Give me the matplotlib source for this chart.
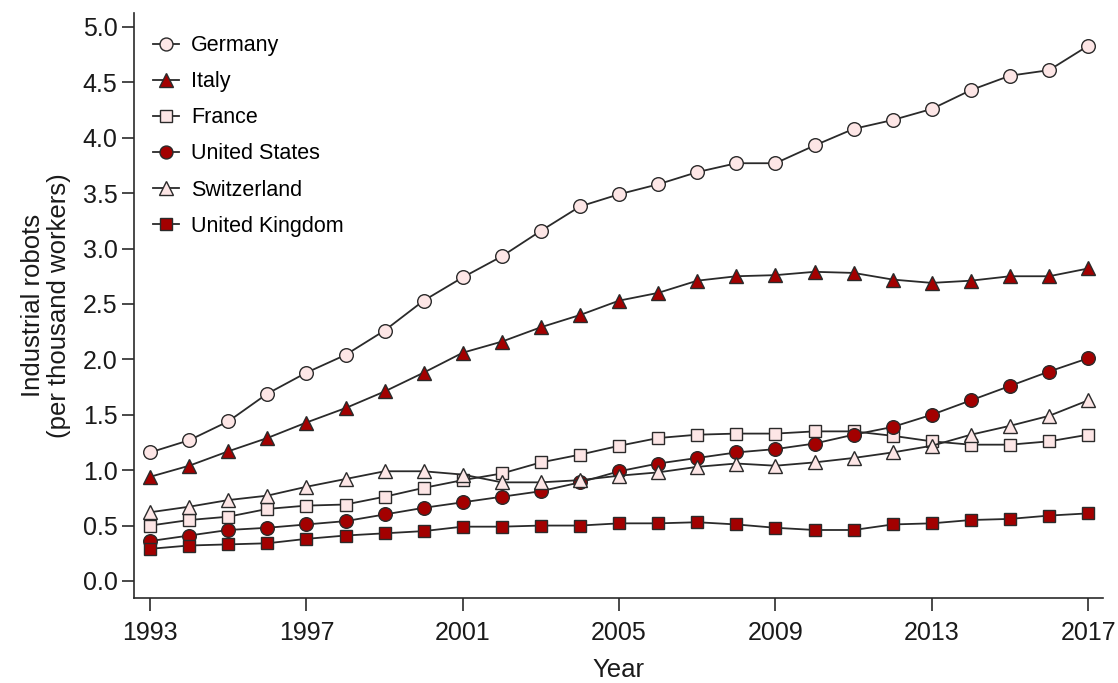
import matplotlib
matplotlib.use('Agg')
import matplotlib.pyplot as plt

years = list(range(1993, 2018))

germany = [1.16, 1.27, 1.44, 1.69, 1.88, 2.04, 2.26, 2.53, 2.74, 2.93, 3.16, 3.38, 3.49,
           3.58, 3.69, 3.77, 3.77, 3.93, 4.08, 4.16, 4.26, 4.43, 4.56, 4.61, 4.83]
italy = [0.94, 1.04, 1.17, 1.29, 1.43, 1.56, 1.71, 1.88, 2.06, 2.16, 2.29, 2.40, 2.53,
         2.60, 2.71, 2.75, 2.76, 2.79, 2.78, 2.72, 2.69, 2.71, 2.75, 2.75, 2.82]
france = [0.50, 0.55, 0.58, 0.65, 0.68, 0.69, 0.76, 0.84, 0.91, 0.97, 1.07, 1.14, 1.22,
          1.29, 1.32, 1.33, 1.33, 1.35, 1.35, 1.31, 1.26, 1.23, 1.23, 1.26, 1.32]
united_states = [0.36, 0.41, 0.46, 0.48, 0.51, 0.54, 0.60, 0.66, 0.71, 0.76, 0.81, 0.89, 0.99,
                 1.06, 1.11, 1.16, 1.19, 1.24, 1.32, 1.39, 1.50, 1.63, 1.76, 1.89, 2.01]
switzerland = [0.62, 0.67, 0.73, 0.77, 0.85, 0.92, 0.99, 0.99, 0.96, 0.89, 0.89, 0.91, 0.95,
               0.98, 1.03, 1.06, 1.04, 1.07, 1.11, 1.16, 1.22, 1.32, 1.40, 1.49, 1.63]
united_kingdom = [0.29, 0.32, 0.33, 0.34, 0.38, 0.41, 0.43, 0.45, 0.49, 0.49, 0.50, 0.50, 0.52,
                  0.52, 0.53, 0.51, 0.48, 0.46, 0.46, 0.51, 0.52, 0.55, 0.56, 0.59, 0.61]

x_ticks = [1993, 1997, 2001, 2005, 2009, 2013, 2017]
y_ticks = [0.0, 0.5, 1.0, 1.5, 2.0, 2.5, 3.0, 3.5, 4.0, 4.5, 5.0]

dark = '#a30000'
light = '#fde6e6'
edge = '#2a2a2a'

# no narrow Arial here, so plain Liberation Sans a bit smaller
plt.rcParams['font.family'] = ['Liberation Sans', 'DejaVu Sans']

fig = plt.figure(figsize=(11.18, 6.83), dpi=100)
ax = fig.add_axes([0.1199, 0.1249, 0.8667, 0.8561])

series = [
    ('Germany', germany, 'o', light, 9.8),
    ('Italy', italy, '^', dark, 10.5),
    ('France', france, 's', light, 9.0),
    ('United States', united_states, 'o', dark, 9.8),
    ('Switzerland', switzerland, '^', light, 10.5),
    ('United Kingdom', united_kingdom, 's', dark, 9.0),
]

for name, vals, mk, fc, ms in series:
    ax.plot(years, vals, color=edge, lw=1.3, marker=mk, markersize=ms,
            markerfacecolor=fc, markeredgecolor=edge, markeredgewidth=1.0, label=name)

ax.set_xlim(1992.59, 2017.38)
ax.set_ylim(-0.151, 5.126)
ax.set_xticks(x_ticks)
ax.set_xticklabels([str(y) for y in x_ticks])
ax.set_yticks(y_ticks)
ax.set_yticklabels(['%.1f' % v for v in y_ticks])

for s in ['top', 'right']:
    ax.spines[s].set_visible(False)
for s in ['left', 'bottom']:
    ax.spines[s].set_color(edge)
    ax.spines[s].set_linewidth(1.2)

ax.tick_params(axis='both', direction='out', length=9, width=1.2, color=edge,
               labelsize=18, labelcolor='#1a1a1a')
ax.tick_params(axis='x', pad=8)
ax.tick_params(axis='y', pad=3)

ax.set_xlabel('Year', fontsize=18.5, color='#1a1a1a', labelpad=9)
ax.set_ylabel('Industrial robots\n(per thousand workers)', fontsize=18.5, color='#1a1a1a',
              labelpad=8, linespacing=1.1)

leg = ax.legend(loc='upper left', bbox_to_anchor=(0.0, 0.995), frameon=False, fontsize=15.5,
                markerscale=0.95, handlelength=1.2, handletextpad=0.55, labelspacing=0.7,
                borderaxespad=0.5)

fig.savefig('out.png', dpi=100)
